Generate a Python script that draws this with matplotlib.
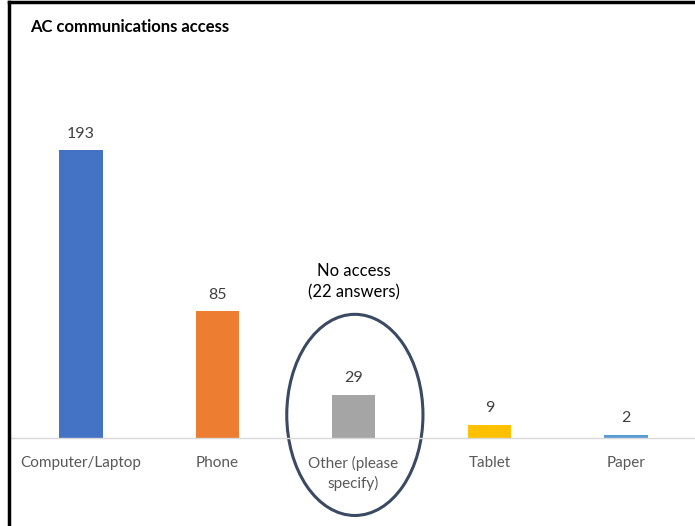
import matplotlib.pyplot as plt
from matplotlib.patches import Ellipse

categories = ['Computer/Laptop', 'Phone', 'Other (please\nspecify)', 'Tablet', 'Paper']
counts = [193, 85, 29, 9, 2]
colors = ['#4472C4', '#ED7D31', '#A5A5A5', '#FFC000', '#5B9BD5']
note = 'No access\n(22 answers)'

plt.rcParams['font.family'] = ['Lato', 'DejaVu Sans']

W, H = 695, 526
fig = plt.figure(figsize=(W / 100, H / 100), dpi=100)

# axes placed in pixel terms: baseline at y=438, plot top at y=60
left, right = 13, 694
bottom, top = 438, 60
ax = fig.add_axes([left / W, 1 - bottom / H, (right - left) / W, (bottom - top) / H])
ymax = (bottom - top) / 1.49

x = range(len(categories))
bars = ax.bar(x, counts, width=0.32, color=colors)
ax.set_xlim(-0.5, len(categories) - 0.5)
ax.set_ylim(0, ymax)

for b, v in zip(bars, counts):
    ax.text(b.get_x() + b.get_width() / 2, v + 6.5, str(v), ha='center', va='bottom',
            fontsize=11.5, color='#404040')

ax.set_xticks(list(x))
ax.set_xticklabels(categories, fontsize=11, color='#595959', linespacing=1.4)
ax.tick_params(axis='x', length=0, pad=13)
ax.tick_params(axis='y', left=False, labelleft=False)
for s in ['top', 'right', 'left']:
    ax.spines[s].set_visible(False)
ax.spines['bottom'].set_color('#D9D9D9')
ax.spines['bottom'].set_linewidth(1)

# extend baseline to the left frame
fig.add_artist(plt.Line2D([10 / W, left / W], [1 - bottom / H] * 2, color='#D9D9D9', lw=1))

# circle around the "Other" bar
ell = Ellipse((2.01, 15.5), 1.0, 135, fill=False, edgecolor='#3B4A63', lw=2.2, clip_on=False)
ax.add_patch(ell)
ax.text(2.0, 105, note, ha='center', va='center', fontsize=12, color='black', linespacing=1.4)

fig.text(30 / W, 1 - 27 / H, 'AC communications access', fontsize=12, fontweight='bold',
         va='center', ha='left', color='black')

# outer frame (left and top edges)
fig.add_artist(plt.Line2D([9 / W, 9 / W], [0, 1 - 1.5 / H], color='black', lw=2.5))
fig.add_artist(plt.Line2D([9 / W, 1], [1 - 1.5 / H] * 2, color='black', lw=2.5))

plt.savefig('out.png', dpi=100)
